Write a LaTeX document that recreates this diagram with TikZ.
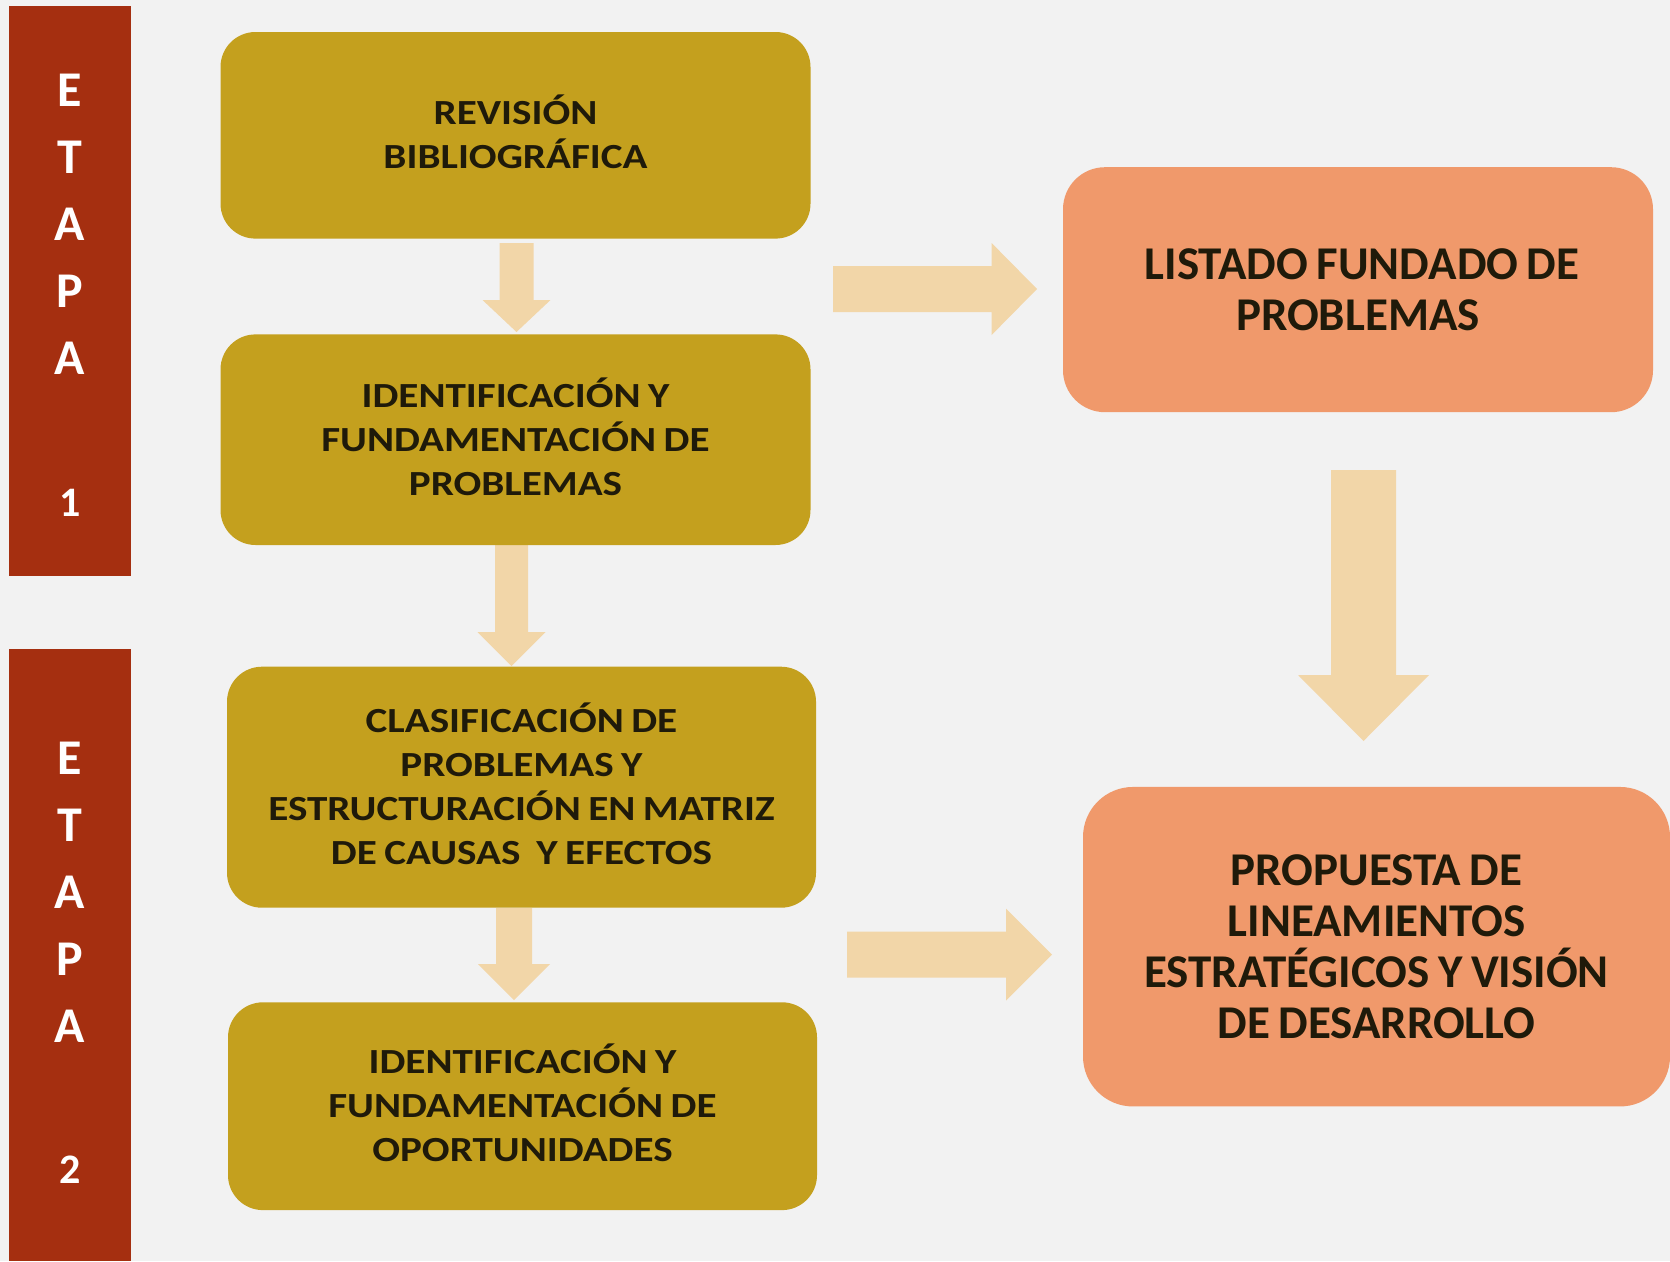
\documentclass[tikz,border=0pt]{standalone}
\usepackage{fontspec}
\setmainfont[WordSpace=0.8]{Carlito}
\newfontfamily\stretchfont[FakeStretch=1.165,WordSpace=0.8]{Carlito}
\definecolor{bgc}{HTML}{F2F2F2}
\definecolor{barred}{HTML}{A52F10}
\definecolor{olivec}{HTML}{C4A01E}
\definecolor{orangec}{HTML}{F0996B}
\definecolor{arrowc}{HTML}{F2D6A8}
\definecolor{txtc}{HTML}{1F1A0A}
\newcommand{\blkdown}[6]{% x center, y top, y head base, y tip, half shaft, half head
  \fill[arrowc] (#1-#5,#2) -- (#1+#5,#2) -- (#1+#5,#3) -- (#1+#6,#3) -- (#1,#4) -- (#1-#6,#3) -- (#1-#5,#3) -- cycle;}
\newcommand{\blkright}[6]{% y center, x start, x head base, x tip, half shaft, half head
  \fill[arrowc] (#2,#1-#5) -- (#3,#1-#5) -- (#3,#1-#6) -- (#4,#1) -- (#3,#1+#6) -- (#3,#1+#5) -- (#2,#1+#5) -- cycle;}
\begin{document}
\begin{tikzpicture}[x=1pt,y=-1pt,
  bar/.style={fill=barred, draw=none, inner sep=0pt, minimum width=122pt},
  etapa/.style={text=white, anchor=base, inner sep=0pt, text width=100pt, align=flush center,
    font=\bfseries\fontsize{50}{67.1}\selectfont},
  olivebox/.style={fill=olivec, draw=none, rounded corners=35pt, inner sep=0pt,
    minimum width=590pt, text width=574pt, align=flush center, text=txtc,
    font=\stretchfont\bfseries\fontsize{35.3}{44}\selectfont, text height=22.7pt},
  orangebox/.style={fill=orangec, draw=none, inner sep=0pt,
    minimum width=590pt, text width=560pt, align=flush center, text=txtc,
    font=\bfseries\fontsize{47}{51}\selectfont, text height=30.2pt}
]
\fill[bgc] (0,0) rectangle (1670,1261);
\useasboundingbox (0,0) rectangle (1670,1261);

% stage bars
\node[bar, minimum height=570.2pt] (bar1) at (70,290.6) {};
\node[bar, minimum height=612pt] (bar2) at (70,955) {};
\node[etapa] (etapa1) at (70,106) {E\\T\\A\\P\\A\\[74.7pt]{\fontsize{42}{67.1}\selectfont 1}};
\node[etapa] (etapa2) at (70,774.4) {E\\T\\A\\P\\A\\[73.2pt]{\fontsize{42}{67.1}\selectfont 2}};

% block arrows
\blkdown{516.5}{243}{300}{332}{17}{34}
\blkdown{511.5}{545}{632}{666}{16.5}{34}
\blkdown{514}{908}{964}{1000}{18}{36}
\blkdown{1363.5}{470}{675}{741}{32.5}{65.5}
\blkright{289}{833}{991.6}{1037}{23}{46}
\blkright{954.7}{847}{1006}{1052}{23}{46}

% boxes
\node[olivebox, minimum height=206.6pt, text depth=44pt] (b1) at (515.5,135.3)
  {REVISIÓN\\BIBLIOGRÁFICA};
\node[olivebox, minimum height=210.6pt, text depth=88pt] (b2) at (515.5,439.7)
  {IDENTIFICACIÓN Y\\FUNDAMENTACIÓN DE\\PROBLEMAS};
\node[olivebox, minimum width=589pt, minimum height=241pt, text depth=132pt] (b3) at (521.5,787.2)
  {CLASIFICACIÓN DE\\PROBLEMAS Y\\ESTRUCTURACIÓN EN MATRIZ\\DE CAUSAS\hspace{0.45em}Y EFECTOS};
\node[olivebox, minimum width=589pt, minimum height=207.8pt, text depth=88pt] (b4) at (522.5,1106.2)
  {IDENTIFICACIÓN Y\\FUNDAMENTACIÓN DE\\OPORTUNIDADES};
\node[orangebox, rounded corners=42pt, minimum height=245pt, text depth=51pt] (b5) at (1358,289.7)
  {\hspace*{8pt}LISTADO FUNDADO DE\\PROBLEMAS};
\node[orangebox, rounded corners=50pt, minimum width=587pt, minimum height=319.5pt, text depth=153pt] (b6) at (1376.5,946.7)
  {PROPUESTA DE\\LINEAMIENTOS\\ESTRATÉGICOS Y VISIÓN\\DE DESARROLLO};
\end{tikzpicture}
\end{document}
